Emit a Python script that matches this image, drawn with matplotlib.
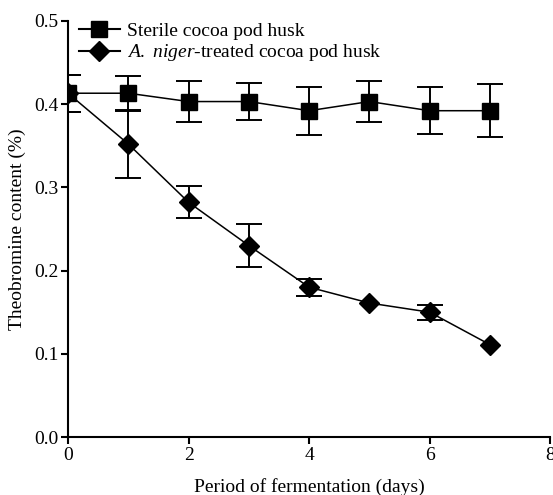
import matplotlib
matplotlib.use("Agg")
import matplotlib.pyplot as plt
from matplotlib.lines import Line2D

plt.rcParams['font.family'] = ['Liberation Serif', 'DejaVu Serif']
plt.rcParams['mathtext.fontset'] = 'custom'
plt.rcParams['mathtext.rm'] = 'Liberation Serif'
plt.rcParams['mathtext.it'] = 'Liberation Serif:italic'

days = [0, 1, 2, 3, 4, 5, 6, 7]
sterile = [0.413, 0.413, 0.403, 0.403, 0.392, 0.403, 0.392, 0.392]
sterile_err = [0.022, 0.021, 0.025, 0.022, 0.029, 0.025, 0.028, 0.032]
treated = [0.413, 0.352, 0.282, 0.230, 0.180, 0.161, 0.150, 0.111]
# error bars too small to be visible in the reference are left out (NaN)
treated_err = [0.022, 0.041, 0.019, 0.026, 0.010, float('nan'), 0.009, float('nan')]

labels = ['Sterile cocoa pod husk', r'$\mathit{A.}$ $\mathit{niger}$-treated cocoa pod husk']
xticks = [0, 2, 4, 6, 8]
yticks = [0.0, 0.1, 0.2, 0.3, 0.4, 0.5]

fig = plt.figure(figsize=(5.53, 4.95), dpi=100)
ax = fig.add_axes([0.123, 0.117, 0.872, 0.841])

ax.errorbar(days, sterile, yerr=sterile_err, color='black', marker='s',
            markersize=11.7, linewidth=1.1, elinewidth=1.4, capsize=9.5, capthick=1.4,
            zorder=3)
ax.errorbar(days, treated, yerr=treated_err, color='black', marker='D',
            markersize=10, linewidth=1.1, elinewidth=1.4, capsize=9.5, capthick=1.4,
            zorder=3)

ax.set_xlim(0, 8)
ax.set_ylim(0, 0.5)
ax.set_xticks(xticks)
ax.set_xticklabels([str(t) for t in xticks])
ax.set_yticks(yticks)
ax.set_yticklabels([f"{t:.1f}" for t in yticks])
for s in ['top', 'right']:
    ax.spines[s].set_visible(False)
for s in ['left', 'bottom']:
    ax.spines[s].set_linewidth(1.5)
ax.tick_params(direction='out', length=5, width=1.5, labelsize=14, pad=2)
ax.set_xlabel('Period of fermentation (days)', fontsize=14, labelpad=10)
ax.set_ylabel('Theobromine content (%)', fontsize=14, labelpad=6)

handles = [Line2D([], [], color='black', marker='s', markersize=11.7, linewidth=1.5),
           Line2D([], [], color='black', marker='D', markersize=10, linewidth=1.5)]
ax.legend(handles, labels, loc='upper left', bbox_to_anchor=(-0.006, 1.03), frameon=False,
          fontsize=14, handlelength=2.1, borderaxespad=0.3,
          labelspacing=0.15, handletextpad=0.4)

fig.savefig('out.png', dpi=100)
